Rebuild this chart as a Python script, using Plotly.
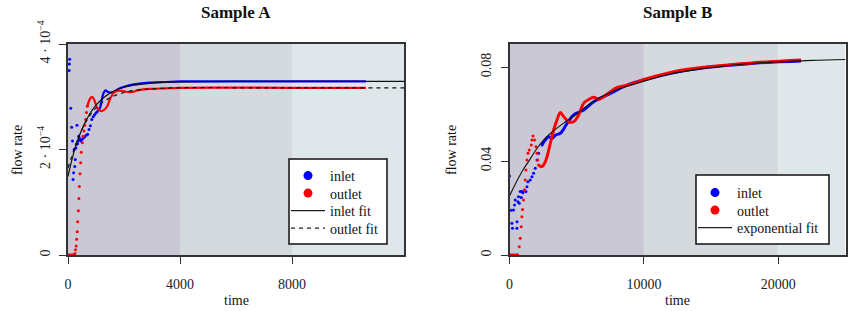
import numpy as np
import plotly.graph_objects as go

FONT = "Liberation Serif"
SCALE_A = 1e-4  # Sample A values are listed in units of 1e-4

# ---------------- Sample A (flow rate in units of 1e-4) ----------------
a_in_dot_t = [40, 50, 60, 100, 130, 160, 180, 200, 220, 240, 260, 280, 300, 320, 340, 360,
              380, 400, 430, 460, 500, 550, 600, 650, 700, 750, 800, 850, 900, 950, 1000, 1050, 1100]
a_in_dot_v = [3.50, 3.62, 3.71, 2.78, 2.42, 2.16, 1.43, 1.56, 2.00, 1.68, 1.81, 2.03, 2.10, 2.46,
              2.11, 2.16, 2.25, 2.22, 2.19, 2.16, 2.19, 2.22, 2.24, 2.27, 2.29, 2.38, 2.45, 2.57,
              2.62, 2.66, 2.69, 2.72, 2.76]
a_in_line_t = [1100, 1150, 1200, 1250, 1300, 1350, 1400, 1500, 1600, 1700, 1800, 2000, 2300,
               2700, 3000, 3500, 4000, 6000, 8000, 10640]
a_in_line_v = [2.76, 2.80, 2.92, 3.04, 3.10, 3.12, 3.10, 3.08, 3.08, 3.11, 3.15, 3.19, 3.23,
               3.26, 3.27, 3.28, 3.29, 3.29, 3.29, 3.29]

a_out_base_t = [0, 250]
a_out_base_v = [0.0, 0.0]
a_out_dot_t = [250, 270, 290, 310, 330, 345, 370, 390, 405, 428, 452, 475, 512, 540, 571, 600,
               631, 660, 690]
a_out_dot_v = [0.03, 0.10, 0.17, 0.30, 0.44, 0.63, 0.84, 1.07, 1.30, 1.54, 1.75, 1.95, 2.13,
               2.25, 2.35, 2.46, 2.57, 2.70, 2.82]
a_out_line_t = [690, 750, 810, 860, 930, 990, 1050, 1170, 1290, 1400, 1520, 1640, 1760, 1940,
                2120, 2300, 2480, 2700, 3000, 3500, 4000, 8000, 10640]
a_out_line_v = [2.82, 2.92, 2.98, 3.00, 2.95, 2.86, 2.78, 2.73, 2.75, 2.82, 2.98, 3.08, 3.11,
                3.11, 3.09, 3.09, 3.12, 3.14, 3.15, 3.16, 3.17, 3.17, 3.17]

a_fit_in_t = [0, 250, 500, 750, 1000, 1500, 2000, 2500, 3000, 4000, 6000, 12000]
a_fit_in_v = [1.49, 2.02, 2.39, 2.65, 2.84, 3.07, 3.18, 3.23, 3.26, 3.28, 3.29, 3.29]
a_fit_out_t = [0, 250, 500, 750, 1000, 1500, 2000, 2500, 3000, 4000, 6000, 12000]
a_fit_out_v = [1.65, 2.05, 2.38, 2.62, 2.79, 2.98, 3.08, 3.13, 3.15, 3.17, 3.17, 3.17]

a_xticks = [0, 4000, 8000]
a_xticktext = ["0", "4000", "8000"]
a_yticks = [0, 2e-4, 4e-4]
a_yticktext = ["0", "2 · 10<sup>−4</sup>", "4 · 10<sup>−4</sup>"]
a_bands = [(0, 4000), (4000, 8000), (8000, 12000)]

# ---------------- Sample B ----------------
b_in_dot_t = [0, 127, 180, 224, 300, 373, 425, 552, 560, 627, 672, 724, 798, 873, 925, 1000,
              1119, 1224, 1299, 1373, 1545, 1672, 1791, 1918, 2045, 2164, 2418]
b_in_dot_v = [0.0336, 0.0190, 0.0135, 0.0114, 0.0191, 0.0213, 0.0234, 0.0114, 0.0142, 0.0227,
              0.0248, 0.0220, 0.0270, 0.0245, 0.0270, 0.0265, 0.0277, 0.0270, 0.0290, 0.0312,
              0.0319, 0.0333, 0.0348, 0.0369, 0.0404, 0.0433, 0.0468]
b_in_line_t = [2418, 2664, 2910, 3164, 3410, 3784, 4284, 4776, 5522, 6269, 7269, 8761, 10000,
               13239, 18209, 21694]
b_in_line_v = [0.0468, 0.0489, 0.0503, 0.0496, 0.0510, 0.0518, 0.0560, 0.0596, 0.0617, 0.0652,
               0.0681, 0.0723, 0.0745, 0.0787, 0.0816, 0.0826]

b_out_base_t = [0, 700]
b_out_base_v = [0.0, 0.0]
b_out_dot_t = [724, 798, 873, 925, 970, 1045, 1119, 1172, 1224, 1299, 1373, 1470, 1619, 1672,
               1746, 1866, 1970, 2045, 2100, 2164]
b_out_dot_v = [0.0035, 0.0071, 0.0120, 0.0163, 0.0194, 0.0234, 0.0277, 0.0319, 0.0362, 0.0404,
               0.0433, 0.0447, 0.0468, 0.0489, 0.0506, 0.0489, 0.0461, 0.0433, 0.0404, 0.0383]
b_out_line_t = [2164, 2418, 2612, 2791, 3037, 3284, 3530, 3784, 4030, 4403, 4776, 5149, 5522,
                5896, 6269, 6642, 7015, 7515, 8015, 8507, 9254, 10000, 10746, 13239, 18209, 21694]
b_out_line_v = [0.0383, 0.0376, 0.0390, 0.0418, 0.0475, 0.0532, 0.0574, 0.0606, 0.0589, 0.0567,
                0.0567, 0.0596, 0.0646, 0.0662, 0.0671, 0.0662, 0.0674, 0.0695, 0.0713, 0.0719,
                0.0731, 0.0747, 0.0759, 0.0790, 0.0818, 0.0830]

b_fit_t = [0, 500, 1000, 1500, 2000, 2500, 3000, 4000, 5000, 6000, 7000, 8000, 9000, 10000,
           12000, 14000, 16000, 18000, 20000, 22500, 25000]
b_fit_v = [0.0251, 0.0310, 0.0362, 0.0405, 0.0450, 0.0487, 0.0515, 0.0560, 0.0600, 0.0645,
           0.0678, 0.0703, 0.0723, 0.0740, 0.0771, 0.0790, 0.0804, 0.0815, 0.0822, 0.0828,
           0.0832]

b_xticks = [0, 10000, 20000]
b_xticktext = ["0", "10000", "20000"]
b_yticks = [0, 0.04, 0.08]
b_yticktext = ["0", "0.04", "0.08"]
b_bands = [(0, 10000), (10000, 20000), (20000, 25000)]

# legend entries
leg_a_names = ["inlet", "outlet", "inlet fit", "outlet fit"]
leg_b_names = ["inlet", "outlet", "exponential fit"]

band_colors = ["#cbc8d6", "#d5dadf", "#dfe7ea"]
BLUE, RED = "#0000ff", "#ff0000"

W, H = 850, 311
fig = go.Figure()

def add_panel(xa, ya, dots_in, line_in, base_out, dots_out, line_out, scale, lw):
    fig.add_trace(go.Scatter(x=line_in[0], y=np.array(line_in[1]) * scale, mode="lines",
                             line=dict(color=BLUE, width=lw, shape="spline"), showlegend=False,
                             xaxis=xa, yaxis=ya, hoverinfo="skip"))
    fig.add_trace(go.Scatter(x=dots_in[0], y=np.array(dots_in[1]) * scale, mode="markers",
                             marker=dict(color=BLUE, size=3), showlegend=False,
                             xaxis=xa, yaxis=ya, hoverinfo="skip"))
    fig.add_trace(go.Scatter(x=base_out[0], y=np.array(base_out[1]) * scale, mode="lines",
                             line=dict(color=RED, width=3), showlegend=False, cliponaxis=False,
                             xaxis=xa, yaxis=ya, hoverinfo="skip"))
    fig.add_trace(go.Scatter(x=dots_out[0], y=np.array(dots_out[1]) * scale, mode="markers",
                             marker=dict(color=RED, size=3), showlegend=False,
                             xaxis=xa, yaxis=ya, hoverinfo="skip"))
    fig.add_trace(go.Scatter(x=line_out[0], y=np.array(line_out[1]) * scale, mode="lines",
                             line=dict(color=RED, width=lw, shape="spline"), showlegend=False,
                             xaxis=xa, yaxis=ya, hoverinfo="skip"))

# Panel A
add_panel("x", "y", (a_in_dot_t, a_in_dot_v), (a_in_line_t, a_in_line_v),
          (a_out_base_t, a_out_base_v), (a_out_dot_t, a_out_dot_v),
          (a_out_line_t, a_out_line_v), SCALE_A, 2.2)
fig.add_trace(go.Scatter(x=a_fit_in_t, y=np.array(a_fit_in_v) * SCALE_A, mode="lines",
                         line=dict(color="#111111", width=1.2, shape="spline"), showlegend=False,
                         xaxis="x", yaxis="y", hoverinfo="skip"))
fig.add_trace(go.Scatter(x=a_fit_out_t, y=np.array(a_fit_out_v) * SCALE_A, mode="lines",
                         line=dict(color="#111111", width=1.2, shape="spline", dash="4px,4px"),
                         showlegend=False, xaxis="x", yaxis="y", hoverinfo="skip"))
# Panel B
add_panel("x2", "y2", (b_in_dot_t, b_in_dot_v), (b_in_line_t, b_in_line_v),
          (b_out_base_t, b_out_base_v), (b_out_dot_t, b_out_dot_v),
          (b_out_line_t, b_out_line_v), 1.0, 3)
fig.add_trace(go.Scatter(x=b_fit_t, y=b_fit_v, mode="lines",
                         line=dict(color="#111111", width=1.1, shape="spline"), showlegend=False,
                         xaxis="x2", yaxis="y2", hoverinfo="skip"))

# Legend: one single-entry legend per row, inside a drawn box
styles_a = [("m", BLUE, None), ("m", RED, None), ("l", None, None), ("l", None, "4px,4px")]
styles_b = [("m", BLUE, None), ("m", RED, None), ("l", None, None)]
rows_a = [176, 193.5, 211, 228.5]
rows_b = [193, 210.5, 228]
legend_layouts = {}
k = 1
for names, styles, rows, left in ((leg_a_names, styles_a, rows_a, 289),
                                  (leg_b_names, styles_b, rows_b, 696)):
    for name, (kind, col, dash), row in zip(names, styles, rows):
        lname = "legend" if k == 1 else f"legend{k}"
        if kind == "m":
            tr = go.Scatter(x=[None], y=[None], mode="markers", name=name, legend=lname,
                            marker=dict(color=col, size=9))
        else:
            tr = go.Scatter(x=[None], y=[None], mode="lines", name=name, legend=lname,
                            line=dict(color="#222222", width=1.2, dash=dash))
        fig.add_trace(tr)
        legend_layouts[lname] = dict(x=(left - 3) / W, y=1 - row / H, xanchor="left",
                                     yanchor="middle", bgcolor="rgba(0,0,0,0)", borderwidth=0,
                                     itemwidth=34,
                                     font=dict(family=FONT, size=14, color="#111111"))
        k += 1

shapes = []
for xr, bands in (("x", a_bands), ("x2", b_bands)):
    for (x0, x1), c in zip(bands, band_colors):
        shapes.append(dict(type="rect", xref=xr, yref=("y" if xr == "x" else "y2") + " domain",
                           x0=x0, x1=x1, y0=0, y1=1, fillcolor=c, line=dict(width=0),
                           layer="below"))
for (x0, y0, x1, y1) in ((289, 159, 387, 244), (696, 175, 829, 244)):
    shapes.append(dict(type="rect", xref="paper", yref="paper", x0=x0 / W, x1=x1 / W,
                       y0=1 - y1 / H, y1=1 - y0 / H, fillcolor="white",
                       line=dict(color="#111111", width=1.5), layer="above"))

axis_common = dict(showgrid=False, zeroline=False, showline=True, mirror=True,
                   linecolor="#333333", linewidth=1.5, ticks="outside", ticklen=7,
                   tickwidth=1.3, tickcolor="#333333", automargin=False,
                   tickfont=dict(family=FONT, size=14, color="#222222"))

ybot, ytopA, ytopB = 1 - 255 / H, 1 - 44 / H, 1 - 43.5 / H

def ann(text, x, y, size=14, angle=0):
    return dict(text=text, x=x / W, y=1 - y / H, xref="paper", yref="paper",
                xanchor="center", yanchor="middle", showarrow=False, textangle=angle,
                font=dict(family=FONT, size=size, color="#111111"))

fig.update_layout(
    width=W, height=H, margin=dict(l=0, r=0, t=0, b=0, autoexpand=False),
    paper_bgcolor="white", plot_bgcolor="white",
    font=dict(family=FONT, size=14, color="#222222"),
    xaxis=dict(domain=[68 / W, 404 / W], range=[0, 12000], tickvals=a_xticks,
               ticktext=a_xticktext, ticklabelstandoff=8, anchor="y", **axis_common),
    yaxis=dict(domain=[ybot, ytopA], range=[0, 4e-4], tickvals=a_yticks,
               ticktext=a_yticktext, tickangle=-90, ticklabelstandoff=4, anchor="x",
               **axis_common),
    xaxis2=dict(domain=[509.5 / W, 845.5 / W], range=[0, 25000], tickvals=b_xticks,
                ticktext=b_xticktext, ticklabelstandoff=8, anchor="y2", **axis_common),
    yaxis2=dict(domain=[ybot, ytopB], range=[0, 0.09], tickvals=b_yticks,
                ticktext=b_yticktext, tickangle=-90, ticklabelstandoff=4, anchor="x2",
                **axis_common),
    shapes=shapes,
    showlegend=True,
    annotations=[
        ann("<b>Sample A</b>", 236, 12, 17),
        ann("<b>Sample B</b>", 677, 12, 17),
        ann("time", 236, 300),
        ann("time", 677, 300),
        ann("flow rate", 17, 150, angle=-90),
        ann("flow rate", 451, 150, angle=-90),
    ],
)
fig.update_layout(**legend_layouts)

fig.write_html("out.html", config={"displayModeBar": False},
               post_script="document.body.style.margin='0';")
